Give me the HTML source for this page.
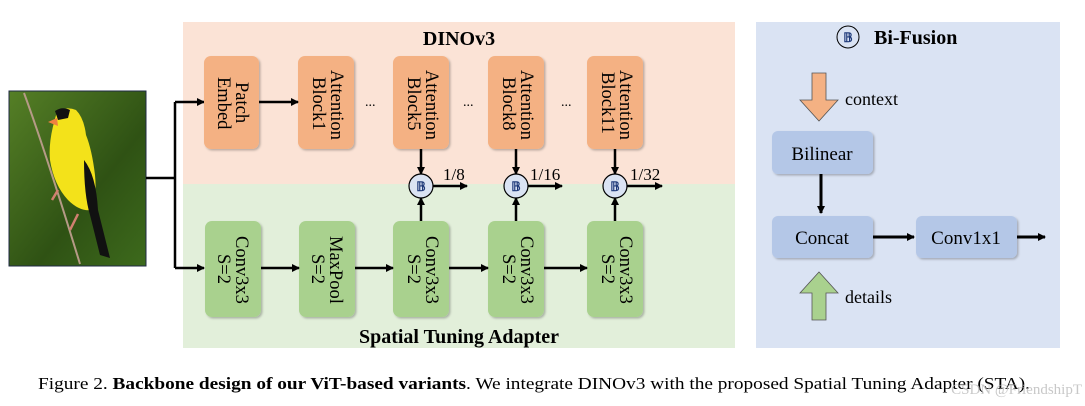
<!DOCTYPE html>
<html><head><meta charset="utf-8"><style>
html,body{margin:0;padding:0;background:#fff;}
svg{display:block;}
text{font-family:"Liberation Serif",serif;}
</style></head><body>
<svg width="1085" height="406" viewBox="0 0 1085 406" xmlns="http://www.w3.org/2000/svg">
<defs>
<marker id="ar" markerWidth="8" markerHeight="8" refX="7" refY="4" orient="auto" markerUnits="userSpaceOnUse"><path d="M0,0 L8,4 L0,8 Z" fill="#000"/></marker>
<linearGradient id="bg" x1="0" y1="0" x2="1" y2="1"><stop offset="0" stop-color="#557f26"/><stop offset="0.6" stop-color="#2f5214"/><stop offset="1" stop-color="#3d6a1c"/></linearGradient>
<filter id="sh" x="-10%" y="-10%" width="130%" height="130%"><feDropShadow dx="1.5" dy="1.5" stdDeviation="1" flood-color="#000" flood-opacity="0.25"/></filter>
</defs>
<rect x="183" y="22" width="552" height="162" fill="#fbe3d6"/>
<rect x="183" y="184" width="552" height="164" fill="#e2efda"/>
<rect x="756" y="22" width="304" height="326" fill="#dae3f3"/>
<text x="459" y="45" font-size="20" font-weight="bold" text-anchor="middle">DINOv3</text>
<text x="459" y="343" font-size="20" font-weight="bold" text-anchor="middle">Spatial Tuning Adapter</text>

<!-- bird image -->
<rect x="9" y="91" width="137" height="175" fill="url(#bg)" stroke="#1f2a44" stroke-width="1"/>
<path d="M24 93 Q45 150 80 264" stroke="#b59a86" stroke-width="2" fill="none"/>
<path d="M57 112 Q66 106 76 110 Q84 118 86 135 Q92 150 95 175 Q97 195 92 210 Q80 212 68 200 Q54 185 50 160 Q48 140 57 112 Z" fill="#f3e21a"/>
<path d="M84 160 Q96 175 98 210 L110 258 L100 255 L90 215 Q84 195 84 160 Z" fill="#111"/>
<path d="M55 111 Q62 106 70 110 L68 118 L58 120 Z" fill="#111"/>
<path d="M48 122 L57 118 L58 126 Z" fill="#f08040"/>
<path d="M58 190 L52 200 M78 214 L70 230" stroke="#d08070" stroke-width="2.5"/>

<path d="M146 178 H175 M175 102 V268" stroke="#000" stroke-width="2.5" fill="none"/>
<line x1="175" y1="102" x2="204" y2="102" stroke="#000" stroke-width="2.5" marker-end="url(#ar)"/>
<line x1="175" y1="268" x2="204" y2="268" stroke="#000" stroke-width="2.5" marker-end="url(#ar)"/>

<g fill="#f4b183" filter="url(#sh)">
<rect x="204" y="56" width="55" height="93" rx="7"/>
<rect x="298" y="56" width="56" height="93" rx="7"/>
<rect x="393" y="56" width="56" height="93" rx="7"/>
<rect x="488" y="56" width="56" height="93" rx="7"/>
<rect x="587" y="56" width="56" height="93" rx="7"/>
</g>
<g fill="#a9d18e" filter="url(#sh)">
<rect x="205" y="221" width="56" height="96" rx="7"/>
<rect x="299" y="221" width="56" height="96" rx="7"/>
<rect x="393" y="221" width="56" height="96" rx="7"/>
<rect x="488" y="221" width="56" height="96" rx="7"/>
<rect x="587" y="221" width="56" height="96" rx="7"/>
</g>
<g font-size="18.5">
<text transform="translate(236,82) rotate(90)">Patch</text>
<text transform="translate(218,77) rotate(90)">Embed</text>
<text transform="translate(331,70) rotate(90)">Attention</text>
<text transform="translate(313,77) rotate(90)">Block1</text>
<text transform="translate(426,70) rotate(90)">Attention</text>
<text transform="translate(408,77) rotate(90)">Block5</text>
<text transform="translate(521,70) rotate(90)">Attention</text>
<text transform="translate(503,77) rotate(90)">Block8</text>
<text transform="translate(620,70) rotate(90)">Attention</text>
<text transform="translate(602,72) rotate(90)">Block11</text>
<text transform="translate(236,236) rotate(90)">Conv3x3</text>
<text transform="translate(218,254) rotate(90)">S=2</text>
<text transform="translate(330,236) rotate(90)">MaxPool</text>
<text transform="translate(312,254) rotate(90)">S=2</text>
<text transform="translate(426,236) rotate(90)">Conv3x3</text>
<text transform="translate(408,254) rotate(90)">S=2</text>
<text transform="translate(521,236) rotate(90)">Conv3x3</text>
<text transform="translate(503,254) rotate(90)">S=2</text>
<text transform="translate(620,236) rotate(90)">Conv3x3</text>
<text transform="translate(602,254) rotate(90)">S=2</text>
</g>
<g font-size="14"><text x="365" y="106">...</text><text x="463" y="106">...</text><text x="561" y="106">...</text></g>

<g stroke="#000" stroke-width="2.5" fill="none">
<line x1="259" y1="102" x2="298" y2="102" marker-end="url(#ar)"/>
<line x1="261" y1="268" x2="299" y2="268" marker-end="url(#ar)"/>
<line x1="355" y1="268" x2="393" y2="268" marker-end="url(#ar)"/>
<line x1="449" y1="268" x2="488" y2="268" marker-end="url(#ar)"/>
<line x1="544" y1="268" x2="587" y2="268" marker-end="url(#ar)"/>
<line x1="421" y1="149" x2="421" y2="174" marker-end="url(#ar)"/>
<line x1="516" y1="149" x2="516" y2="174" marker-end="url(#ar)"/>
<line x1="615" y1="149" x2="615" y2="174" marker-end="url(#ar)"/>
<line x1="421" y1="221" x2="421" y2="198" marker-end="url(#ar)"/>
<line x1="516" y1="221" x2="516" y2="198" marker-end="url(#ar)"/>
<line x1="615" y1="221" x2="615" y2="198" marker-end="url(#ar)"/>
<line x1="433" y1="186" x2="467" y2="186" marker-end="url(#ar)"/>
<line x1="528" y1="186" x2="562" y2="186" marker-end="url(#ar)"/>
<line x1="627" y1="186" x2="662" y2="186" marker-end="url(#ar)"/>
</g>
<g fill="#dae3f3" stroke="#000" stroke-width="1.2">
<circle cx="421" cy="186" r="12"/><circle cx="516" cy="186" r="12"/><circle cx="615" cy="186" r="12"/>
</g>
<g font-size="13" font-weight="bold" text-anchor="middle" fill="#1f3a7a">
<text x="421" y="191">𝔹</text><text x="516" y="191">𝔹</text><text x="615" y="191">𝔹</text>
</g>
<g font-size="17"><text x="443" y="180">1/8</text><text x="530" y="180">1/16</text><text x="630" y="180">1/32</text></g>

<circle cx="848" cy="37" r="11" fill="none" stroke="#000" stroke-width="1"/>
<text x="848" y="42" font-size="13" font-weight="bold" text-anchor="middle" fill="#1f3a7a">𝔹</text>
<text x="874" y="44" font-size="20" font-weight="bold">Bi-Fusion</text>
<path d="M812 73 H826 V100 H838 L819 121 L800 100 H812 Z" fill="#f4b183" stroke="#555" stroke-width="0.8"/>
<text x="845" y="105" font-size="18">context</text>
<path d="M812 320 H826 V293 H838 L819 272 L800 293 H812 Z" fill="#a9d18e" stroke="#555" stroke-width="0.8"/>
<text x="845" y="303" font-size="18">details</text>
<g fill="#b4c7e7" filter="url(#sh)">
<rect x="772" y="131" width="101" height="43" rx="6"/>
<rect x="772" y="216" width="101" height="42" rx="6"/>
<rect x="916" y="216" width="101" height="42" rx="6"/>
</g>
<g font-size="19" text-anchor="middle">
<text x="822" y="160">Bilinear</text><text x="822" y="244">Concat</text><text x="966" y="244">Conv1x1</text>
</g>
<g stroke="#000" stroke-width="3">
<line x1="821" y1="174" x2="821" y2="213" marker-end="url(#ar)"/>
<line x1="873" y1="237" x2="914" y2="237" marker-end="url(#ar)"/>
<line x1="1017" y1="237" x2="1045" y2="237" marker-end="url(#ar)"/>
</g>

<text x="38" y="389" font-size="17" textLength="992" lengthAdjust="spacingAndGlyphs">Figure 2. <tspan font-weight="bold">Backbone design of our ViT-based variants</tspan>. We integrate DINOv3 with the proposed Spatial Tuning Adapter (STA).</text>
<text x="1082" y="394" font-size="15" fill="#bbb" text-anchor="end" font-family="Liberation Sans,sans-serif" opacity="0.8">CSDN @FriendshipT</text>
</svg>
</body></html>
